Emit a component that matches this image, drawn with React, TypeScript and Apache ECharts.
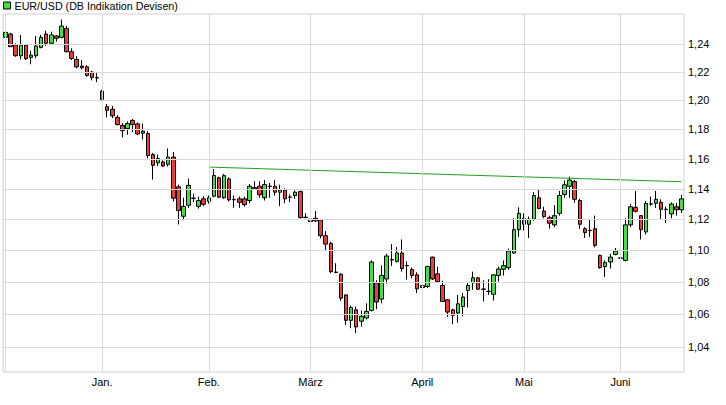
import React, { useEffect, useRef } from "react";
import * as echarts from "echarts";

// ---- data ----
const seriesName = "EUR/USD (DB Indikation Devisen)";

const months = ["2014-12", "2015-01", "2015-02", "2015-03", "2015-04", "2015-05", "2015-06"];
const monthDays = [
  [1, 2, 3, 4, 5, 8, 9, 10, 11, 12, 15, 16, 17, 18, 19, 22, 23, 29, 30],
  [2, 5, 6, 7, 8, 9, 12, 13, 14, 15, 16, 19, 20, 21, 22, 23, 26, 27, 28, 29, 30],
  [2, 3, 4, 5, 6, 9, 10, 11, 12, 13, 16, 17, 18, 19, 20, 23, 24, 25, 26, 27],
  [2, 3, 4, 5, 6, 9, 10, 11, 12, 13, 16, 17, 18, 19, 20, 23, 24, 25, 26, 27, 30, 31],
  [1, 2, 7, 8, 9, 10, 13, 14, 15, 16, 17, 20, 21, 22, 23, 24, 27, 28, 29, 30],
  [4, 5, 6, 7, 8, 11, 12, 13, 14, 15, 18, 19, 20, 21, 22, 26, 27, 28, 29],
  [1, 2, 3, 4, 5, 8, 9, 10, 11, 12, 15, 16, 17],
];

const opens = [
  1.2448, 1.2472, 1.2393, 1.2316, 1.2393, 1.2304, 1.2316, 1.2376, 1.2472, 1.2405,
  1.2458, 1.2448, 1.2513, 1.2345, 1.229, 1.2242, 1.2237, 1.22, 1.216, 1.2065,
  1.1957, 1.1939, 1.1883, 1.1828, 1.1806, 1.1862, 1.1838, 1.1774, 1.1772, 1.1629,
  1.1574, 1.1579, 1.1563, 1.1612, 1.1413, 1.122, 1.1292, 1.1339, 1.1285, 1.1334,
  1.1317, 1.1351, 1.1473, 1.1341, 1.1466, 1.133, 1.1334, 1.1334, 1.1323, 1.1408,
  1.1417, 1.1341, 1.1418, 1.1417, 1.1378, 1.1393, 1.1346, 1.1356, 1.1382, 1.1214,
  1.1186, 1.1207, 1.1197, 1.1094, 1.1045, 1.0862, 1.0849, 1.0719, 1.0562, 1.0627,
  1.0557, 1.0577, 1.0623, 1.0795, 1.0693, 1.0819, 1.0941, 1.093, 1.0983, 1.0904,
  1.0878, 1.0845, 1.0765, 1.0772, 1.0957, 1.0851, 1.0778, 1.0689, 1.0627, 1.0607,
  1.0647, 1.0747, 1.0795, 1.0826, 1.0756, 1.0742, 1.0723, 1.0841, 1.088, 1.089,
  1.0983, 1.1133, 1.1205, 1.1168, 1.1201, 1.1341, 1.1254, 1.1211, 1.1164, 1.1239,
  1.1363, 1.1417, 1.1449, 1.1323, 1.1139, 1.1129, 1.1139, 1.0968, 1.0897, 1.0926,
  1.0974, 1.0952, 1.0936, 1.1164, 1.1278, 1.1224, 1.1118, 1.1301, 1.1305, 1.1311,
  1.1266, 1.1235, 1.1282, 1.1262,
];
const closes = [
  1.2484, 1.2381, 1.2316, 1.2393, 1.2295, 1.232, 1.2386, 1.2448, 1.2405, 1.2465,
  1.2441, 1.253, 1.2345, 1.2297, 1.2237, 1.223, 1.2176, 1.2162, 1.2158, 1.2007,
  1.1932, 1.1893, 1.1833, 1.1792, 1.184, 1.1833, 1.1769, 1.1788, 1.1623, 1.1557,
  1.1603, 1.1552, 1.1612, 1.1338, 1.1257, 1.1284, 1.1423, 1.1337, 1.1323, 1.1298,
  1.1341, 1.1488, 1.1345, 1.1488, 1.1327, 1.1328, 1.1311, 1.1296, 1.1417, 1.1399,
  1.1361, 1.1428, 1.1416, 1.1378, 1.1393, 1.1334, 1.1344, 1.1378, 1.1211, 1.1212,
  1.1201, 1.119, 1.1094, 1.104, 1.0865, 1.086, 1.0699, 1.0562, 1.0641, 1.0522,
  1.0587, 1.0617, 1.0926, 1.0675, 1.0841, 1.0964, 1.0939, 1.0983, 1.0884, 1.0902,
  1.0841, 1.0757, 1.0778, 1.0897, 1.0819, 1.0803, 1.0678, 1.0613, 1.0593, 1.0664,
  1.0706, 1.0778, 1.0826, 1.0755, 1.0754, 1.074, 1.0845, 1.0882, 1.0903, 1.0996,
  1.1133, 1.1239, 1.1168, 1.1201, 1.1356, 1.1271, 1.1218, 1.1175, 1.1224, 1.1356,
  1.1427, 1.1458, 1.1331, 1.1168, 1.1114, 1.1127, 1.1032, 1.089, 1.0922, 1.0957,
  1.0996, 1.095, 1.1164, 1.1282, 1.1252, 1.1133, 1.1304, 1.1299, 1.1331, 1.1265,
  1.1264, 1.13, 1.1262, 1.1334,
];
const lows = [
  1.2424, 1.2381, 1.2309, 1.229, 1.2285, 1.2255, 1.2297, 1.2369, 1.2386, 1.2393,
  1.2417, 1.2441, 1.234, 1.2285, 1.2226, 1.2219, 1.2166, 1.2141, 1.2129, 1.2002,
  1.1883, 1.1878, 1.1828, 1.1746, 1.1764, 1.1781, 1.176, 1.1731, 1.1603, 1.1461,
  1.1552, 1.1546, 1.1548, 1.1317, 1.1167, 1.1194, 1.1273, 1.1313, 1.127, 1.1286,
  1.1302, 1.1345, 1.1341, 1.1334, 1.1318, 1.1275, 1.1275, 1.1283, 1.1305, 1.1393,
  1.1341, 1.1323, 1.1341, 1.1356, 1.1286, 1.1305, 1.1313, 1.1334, 1.1207, 1.1207,
  1.1182, 1.1182, 1.1077, 1.1, 1.0855, 1.0855, 1.0682, 1.0534, 1.0514, 1.0484,
  1.0524, 1.0567, 1.0617, 1.0631, 1.0667, 1.0789, 1.0901, 1.0922, 1.0865, 1.0815,
  1.0824, 1.0731, 1.0735, 1.0761, 1.0813, 1.0798, 1.0675, 1.0583, 1.0538, 1.0548,
  1.0587, 1.0641, 1.0751, 1.0751, 1.0678, 1.0719, 1.0684, 1.0803, 1.0841, 1.0876,
  1.0978, 1.1086, 1.1128, 1.1079, 1.119, 1.1265, 1.1207, 1.1139, 1.1149, 1.1224,
  1.1341, 1.1341, 1.1308, 1.1137, 1.1079, 1.1086, 1.1019, 1.0884, 1.0832, 1.0884,
  1.0968, 1.0903, 1.093, 1.1149, 1.1245, 1.107, 1.1101, 1.1289, 1.1275, 1.1203,
  1.1175, 1.1207, 1.1224, 1.1241,
];
const highs = [
  1.2513, 1.2481, 1.2405, 1.2465, 1.2396, 1.2352, 1.2458, 1.2465, 1.2496, 1.2489,
  1.2465, 1.2578, 1.253, 1.2369, 1.2313, 1.2285, 1.2249, 1.2209, 1.22, 1.2075,
  1.1976, 1.1962, 1.19, 1.1844, 1.1855, 1.1871, 1.1848, 1.184, 1.1788, 1.164,
  1.1629, 1.159, 1.1671, 1.1647, 1.1428, 1.1342, 1.1469, 1.1367, 1.1349, 1.1351,
  1.1356, 1.1532, 1.1481, 1.1499, 1.1477, 1.1356, 1.1349, 1.1349, 1.1432, 1.1451,
  1.1451, 1.1458, 1.1439, 1.1458, 1.1428, 1.1404, 1.1363, 1.1389, 1.1389, 1.1239,
  1.1228, 1.1254, 1.12, 1.1124, 1.1055, 1.0918, 1.0855, 1.0723, 1.0653, 1.0647,
  1.0623, 1.0667, 1.0936, 1.0811, 1.0905, 1.0978, 1.104, 1.1021, 1.107, 1.093,
  1.089, 1.0861, 1.0786, 1.0903, 1.096, 1.0897, 1.0807, 1.0694, 1.0633, 1.0719,
  1.073, 1.0798, 1.0865, 1.083, 1.0811, 1.0817, 1.0849, 1.0897, 1.0936, 1.1011,
  1.1207, 1.1278, 1.1239, 1.1218, 1.1378, 1.1393, 1.1282, 1.1224, 1.1293, 1.1386,
  1.1455, 1.1481, 1.146, 1.1334, 1.1149, 1.1201, 1.1224, 1.0973, 1.0936, 1.0978,
  1.1015, 1.0992, 1.1207, 1.13, 1.1385, 1.1228, 1.1321, 1.1349, 1.1386, 1.1331,
  1.1283, 1.1311, 1.1307, 1.136,
];

const trendDates = ["2015-02-02", "2015-06-17"];
const trendValues = [1.1545, 1.1447];

const gridDates = ["2014-12-01", "2015-01-02", "2015-02-02", "2015-03-02", "2015-04-01", "2015-05-04", "2015-06-01"];
const tickDates = ["2015-01-02", "2015-02-02", "2015-03-02", "2015-04-01", "2015-05-04", "2015-06-01"];
const tickLabels = ["Jan.", "Feb.", "März", "April", "Mai", "Juni"];

const yTicks = [1.04, 1.06, 1.08, 1.1, 1.12, 1.14, 1.16, 1.18, 1.2, 1.22, 1.24];
const yTickLabels = ["1,04", "1,06", "1,08", "1,10", "1,12", "1,14", "1,16", "1,18", "1,20", "1,22", "1,24"];
const yMin = 1.025;
const yMax = 1.2618;

// ---- styles ----
const UP = "#3fe03f";
const DOWN = "#ee3b3b";
const GRID = "#dadada";
const FRAME = "#cfcfcf";
const AXIS_FONT = "'Liberation Sans Narrow', 'Liberation Sans', Arial, sans-serif";

export default function App() {
  const ref = useRef<HTMLDivElement>(null);

  useEffect(() => {
    document.body.style.margin = "0";
    const categories = months.flatMap((m, i) =>
      monthDays[i].map((d) => `${m}-${String(d).padStart(2, "0")}`)
    );
    const candles = opens.map((o, i) => [o, closes[i], lows[i], highs[i]]);

    const chart = echarts.init(ref.current!, null, { renderer: "svg" });
    chart.setOption({
      animation: false,
      backgroundColor: "#ffffff",
      legend: {
        left: 3,
        top: 0,
        padding: 0,
        itemWidth: 7,
        itemHeight: 7,
        itemGap: 5,
        selectedMode: false,
        data: [
          {
            name: seriesName,
            icon: "rect",
            itemStyle: { color: UP, borderColor: "#000", borderWidth: 1 },
          },
        ],
        textStyle: {
          fontSize: 10.7,
          color: "#000",
          fontFamily: "'Liberation Sans', Arial, sans-serif",
          padding: [0, 0, 0, -1],
        },
      },
      grid: {
        left: 3,
        right: 42,
        top: 14,
        bottom: 33,
        show: true,
        borderColor: FRAME,
        borderWidth: 1,
        backgroundColor: "transparent",
      },
      xAxis: {
        type: "category",
        data: categories,
        boundaryGap: true,
        axisLine: { show: false },
        axisTick: { show: false },
        splitLine: { show: false },
        axisLabel: {
          interval: (_i: number, v: string) => tickDates.includes(v),
          formatter: (v: string) => {
            const k = tickDates.indexOf(v);
            return k >= 0 ? tickLabels[k] : "";
          },
          color: "#000",
          fontSize: 11,
          fontFamily: AXIS_FONT,
          margin: 4,
        },
      },
      yAxis: {
        type: "log",
        logBase: 10,
        min: yMin,
        max: yMax,
        axisLine: { show: false },
        axisTick: { show: false },
        axisLabel: { show: false },
        splitLine: { show: false },
      },
      series: [
        {
          type: "line",
          name: "grid",
          data: [],
          z: 1,
          silent: true,
          markLine: {
            silent: true,
            symbol: "none",
            animation: false,
            lineStyle: { color: GRID, width: 1, type: "solid" },
            emphasis: { disabled: true },
            data: [
              ...yTicks.map((v, i) => ({
                yAxis: v,
                label: {
                  show: true,
                  position: "end",
                  distance: 4,
                  formatter: yTickLabels[i],
                  color: "#000",
                  fontSize: 11,
                  fontFamily: AXIS_FONT,
                },
              })),
              ...gridDates.map((d) => ({ xAxis: d, label: { show: false } })),
            ],
          },
        },
        {
          type: "candlestick",
          name: seriesName,
          data: candles,
          z: 3,
          barWidth: 4,
          itemStyle: {
            color: UP,
            color0: DOWN,
            borderColor: "#000",
            borderColor0: "#000",
            borderColorDoji: "#000",
            borderWidth: 1,
          },
          emphasis: { disabled: true },
        },
        {
          type: "line",
          name: "trend",
          data: trendDates.map((d, i) => [d, trendValues[i]]),
          symbol: "none",
          lineStyle: { color: "#1ea01e", width: 1 },
          z: 4,
          silent: true,
        },
      ],
    });
    return () => chart.dispose();
  }, []);

  return (
    <div
      ref={ref}
      style={{ position: "fixed", left: 0, top: 0, width: 726, height: 405 }}
    />
  );
}
